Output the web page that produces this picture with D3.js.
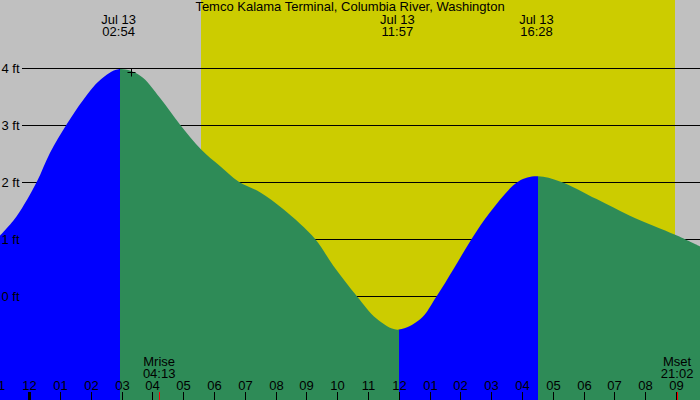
<!DOCTYPE html>
<html>
<head>
<meta charset="utf-8">
<script src="https://cdn.jsdelivr.net/npm/d3@7"></script>
<style>
  body { margin: 0; background: #fff; }
  svg { display: block; }
  text { font-family: "Liberation Sans", Arial, sans-serif; font-size: 13px; fill: #000; }
</style>
</head>
<body>
<div id="chart"></div>
<script>
// Tide curve (hours from midnight Jul 13, feet)
var tideHours = [-0.95, -0.41, 0.24, 0.67, 1.21, 1.75, 2.30, 2.90, 3.59, 4.24, 4.89, 5.58, 6.19, 6.79,
                 7.49, 8.25, 9.28, 9.87, 10.63, 11.28, 11.95, 12.69, 13.23, 13.77, 14.36, 14.96,
                 15.88, 16.47, 17.23, 18.42, 19.50, 20.99, 21.78];
var tideFeet  = [1.06, 1.40, 2.00, 2.51, 3.01, 3.44, 3.79, 3.98, 3.87, 3.48, 3.01, 2.57, 2.28, 2.01,
                 1.82, 1.52, 1.00, 0.53, 0.00, -0.40, -0.59, -0.41, 0.00, 0.47, 1.00, 1.47,
                 2.01, 2.10, 2.01, 1.70, 1.41, 1.07, 0.87];

// High / low tide events
var eventHours = [2.90, 11.95, 16.467];
var eventDates = ["Jul 13", "Jul 13", "Jul 13"];
var eventTimes = ["02:54", "11:57", "16:28"];

// Sun and moon
var sunHours = [5.575, 20.97];
var moonHours = [4.217, 21.033];
var moonNames = ["Mrise", "Mset"];
var moonTimes = ["04:13", "21:02"];

// marker near first high
var markHour = 3.30, markFeet = 3.93;

var feetTicks = [0, 1, 2, 3, 4];
var hourTicks = d3.range(-1, 22);

var title = "Temco Kalama Terminal, Columbia River, Washington";

var width = 700, height = 400;

var x = d3.scaleLinear().domain([-0.951, 21.776]).range([0, width]);
var y = d3.scaleLinear().domain([-104 / 57, 296 / 57]).range([height, 0]);

var svg = d3.select("#chart").append("svg")
    .attr("width", width)
    .attr("height", height);

// night / day background
svg.append("rect")
    .attr("width", width).attr("height", height)
    .attr("fill", "#c0c0c0");

svg.append("rect")
    .attr("x", Math.round(x(sunHours[0])))
    .attr("width", Math.round(x(sunHours[1])) - Math.round(x(sunHours[0])))
    .attr("height", height)
    .attr("fill", "#cccc00");

// grid lines (behind the water)
svg.append("g")
    .attr("transform", "translate(22,0)")
    .call(d3.axisLeft(y).tickValues(feetTicks).tickSize(-(width - 22)).tickFormat(""))
    .call(function(g) {
      g.select(".domain").remove();
      g.selectAll("line").attr("stroke", "#000");
    });

// water: blue while rising, green while falling
var tide = tideHours.map(function(h, i) { return {h: h, v: tideFeet[i]}; });
var area = d3.area()
    .x(function(d) { return x(d.h); })
    .y0(height)
    .y1(function(d) { return y(d.v); })
    .curve(d3.curveCatmullRom.alpha(0.5));

var bounds = [x.domain()[0]].concat(eventHours, [x.domain()[1]]);
var fills = ["#0000ff", "#2e8b57", "#0000ff", "#2e8b57"];

fills.forEach(function(c, i) {
  var x0 = Math.round(x(bounds[i]) + 1.5), x1 = Math.round(x(bounds[i + 1]) + 1.5);
  svg.append("clipPath").attr("id", "seg" + i)
    .append("rect")
      .attr("x", i == 0 ? 0 : x0)
      .attr("width", (i == fills.length - 1 ? width : x1) - (i == 0 ? 0 : x0))
      .attr("height", height);
  svg.append("path")
      .datum(tide)
      .attr("clip-path", "url(#seg" + i + ")")
      .attr("fill", c)
      .attr("d", area);
});

// feet labels on top
svg.append("g")
    .attr("transform", "translate(22,0)")
    .call(d3.axisLeft(y).tickValues(feetTicks).tickSize(0).tickPadding(2.5)
      .tickFormat(function(d) { return d + " ft"; }))
    .call(function(g) {
      g.select(".domain").remove();
      g.attr("font-family", null).attr("font-size", null);
      g.selectAll("text").attr("fill", "#000");
    });

// hour axis along the bottom
svg.append("g")
    .attr("transform", "translate(0," + height + ")")
    .call(d3.axisTop(x).tickValues(hourTicks).tickSize(8).tickPadding(2.5)
      .tickFormat(function(h) {
        var k = ((h % 12) + 12) % 12;
        return d3.format("02d")(k == 0 ? 12 : k);
      }))
    .call(function(g) {
      g.select(".domain").remove();
      g.attr("font-family", null).attr("font-size", null);
      g.selectAll(".tick")
        .attr("transform", function(h) { return "translate(" + (Math.round(x(h)) + 0.5) + ",0)"; });
      g.selectAll("text").attr("fill", "#000");
      g.selectAll("line").attr("stroke", "#000")
        .attr("stroke-width", function(h) { return h == 0 ? 3 : 1; });
    });

// moon rise / set
moonHours.forEach(function(h, i) {
  var mx = Math.round(x(h)) + 0.5;
  svg.append("line")
      .attr("x1", mx).attr("x2", mx)
      .attr("y1", height - 8).attr("y2", height)
      .attr("stroke", "red");
  svg.append("text")
      .attr("x", x(h)).attr("y", 366)
      .attr("text-anchor", "middle")
      .text(moonNames[i]);
  svg.append("text")
      .attr("x", x(h)).attr("y", 377.5)
      .attr("text-anchor", "middle")
      .text(moonTimes[i]);
});

// event labels
eventHours.forEach(function(h, i) {
  svg.append("text")
      .attr("x", x(h)).attr("y", 23.5)
      .attr("text-anchor", "middle")
      .text(eventDates[i]);
  svg.append("text")
      .attr("x", x(h)).attr("y", 36)
      .attr("text-anchor", "middle")
      .text(eventTimes[i]);
});

// plus marker
var mx = Math.round(x(markHour)) + 0.5, my = Math.round(y(markFeet)) + 0.5;
svg.append("path")
    .attr("d", "M" + (mx - 4) + "," + my + "H" + (mx + 4) + "M" + mx + "," + (my - 4) + "V" + (my + 4))
    .attr("stroke", "#000")
    .attr("fill", "none");

// title
svg.append("text")
    .attr("x", width / 2)
    .attr("y", 11)
    .attr("text-anchor", "middle")
    .text(title);
</script>
</body>
</html>
